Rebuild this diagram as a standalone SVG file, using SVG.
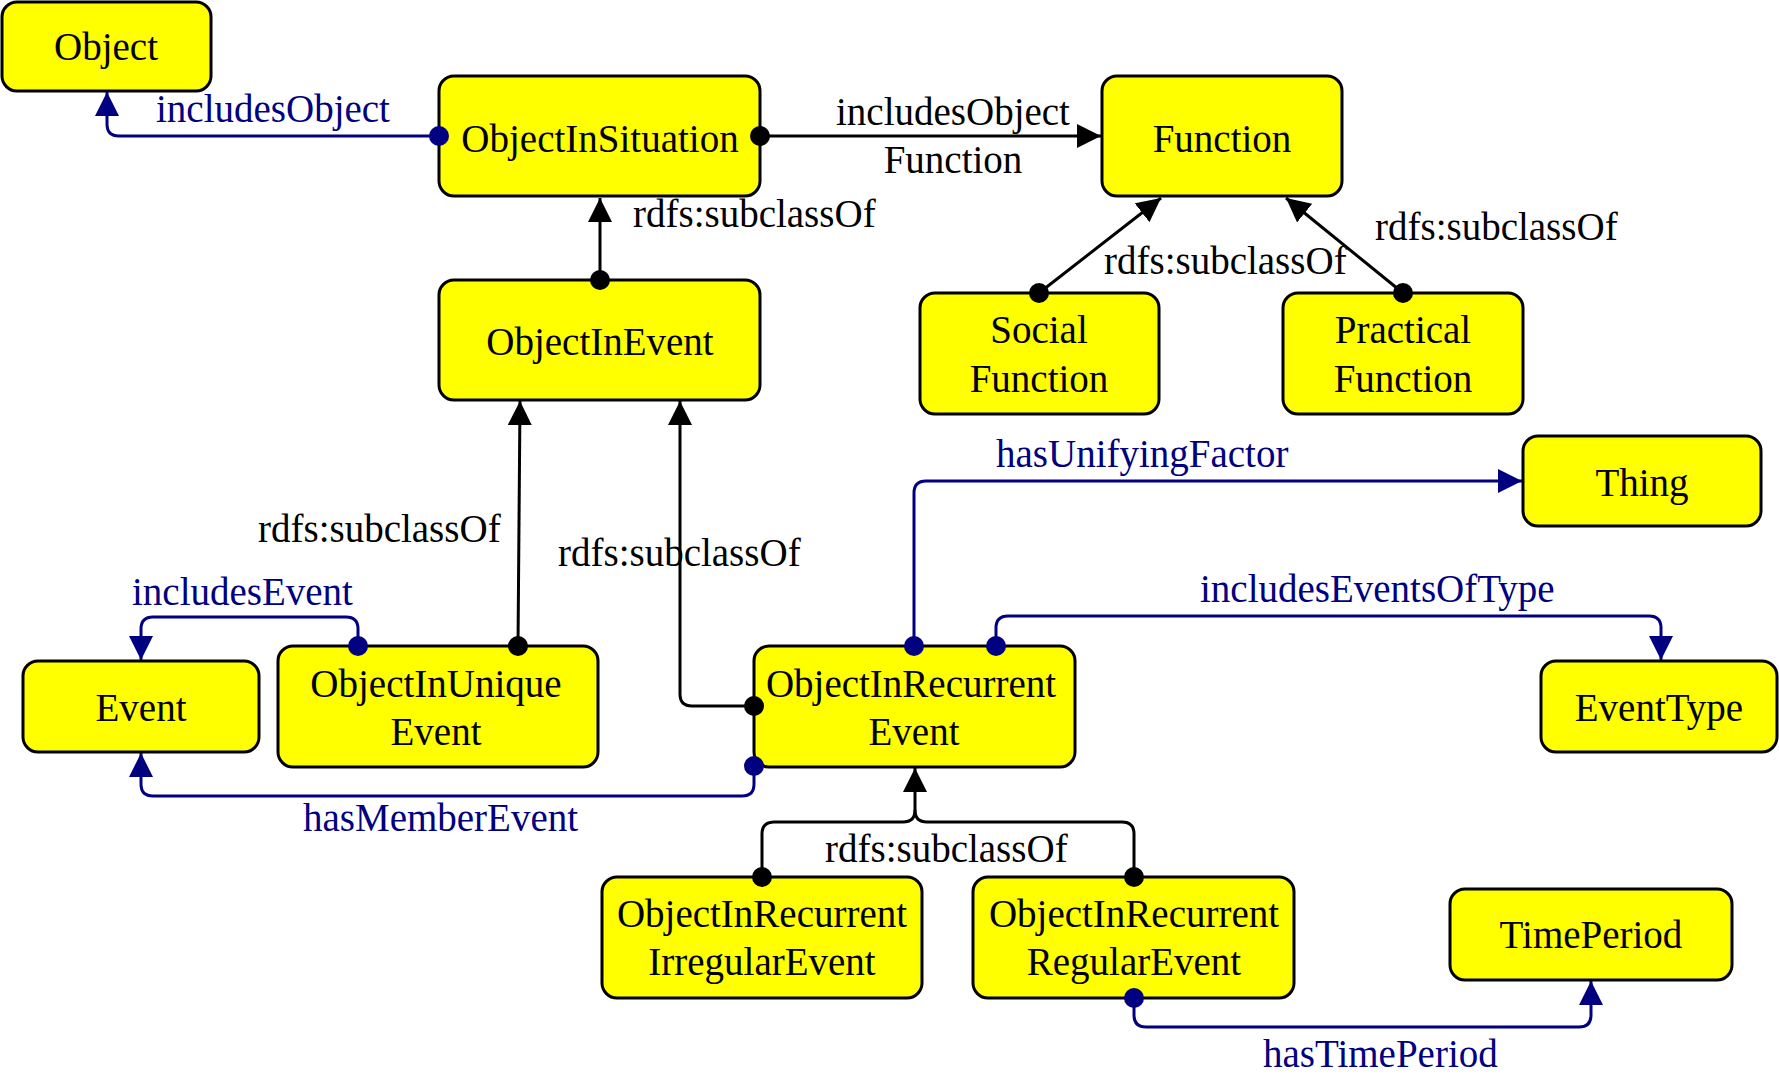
<svg xmlns="http://www.w3.org/2000/svg" width="1779" height="1077" viewBox="0 0 1779 1077">
<style>
.node rect{fill:#ffff00;stroke:#000;stroke-width:3}
text{font-family:"Liberation Serif","Times New Roman",serif;font-size:39px}
.node text{fill:#000;text-anchor:middle}
.e{fill:none;stroke-width:3}
.k{stroke:#000}
.b{stroke:#000080}
.lk{fill:#000}
.lb{fill:#000080}
</style>
<defs>
<marker id="ak" markerUnits="userSpaceOnUse" markerWidth="26" markerHeight="26" refX="24" refY="12" orient="auto"><path d="M0,0 L24,12 L0,24 z" fill="#000"/></marker>
<marker id="ab" markerUnits="userSpaceOnUse" markerWidth="26" markerHeight="26" refX="24" refY="12" orient="auto"><path d="M0,0 L24,12 L0,24 z" fill="#000080"/></marker>
<marker id="dk" markerUnits="userSpaceOnUse" markerWidth="22" markerHeight="22" refX="11" refY="11"><circle cx="11" cy="11" r="10" fill="#000"/></marker>
<marker id="db" markerUnits="userSpaceOnUse" markerWidth="22" markerHeight="22" refX="11" refY="11"><circle cx="11" cy="11" r="10" fill="#000080"/></marker>
</defs>
<rect width="1779" height="1077" fill="#fff"/>
<g id="Object" class="node"><rect x="2" y="2" width="209" height="89" rx="15"/><text x="106" y="60">Object</text></g>
<g id="ObjectInSituation" class="node"><rect x="439" y="76" width="321" height="120" rx="15"/><text x="600" y="152">ObjectInSituation</text></g>
<g id="Function" class="node"><rect x="1102" y="76" width="240" height="120" rx="15"/><text x="1222" y="152">Function</text></g>
<g id="ObjectInEvent" class="node"><rect x="439" y="280" width="321" height="120" rx="15"/><text x="600" y="355">ObjectInEvent</text></g>
<g id="SocialFunction" class="node"><rect x="920" y="293" width="239" height="121" rx="15"/><text x="1039" y="343">Social</text><text x="1039" y="392">Function</text></g>
<g id="PracticalFunction" class="node"><rect x="1283" y="293" width="240" height="121" rx="15"/><text x="1403" y="343">Practical</text><text x="1403" y="392">Function</text></g>
<g id="Thing" class="node"><rect x="1523" y="436" width="238" height="90" rx="15"/><text x="1642" y="496">Thing</text></g>
<g id="Event" class="node"><rect x="23" y="661" width="236" height="91" rx="15"/><text x="141" y="721">Event</text></g>
<g id="ObjectInUniqueEvent" class="node"><rect x="278" y="646" width="320" height="121" rx="15"/><text x="436" y="697">ObjectInUnique</text><text x="436" y="745">Event</text></g>
<g id="ObjectInRecurrentEvent" class="node"><rect x="754" y="646" width="321" height="121" rx="15"/><text x="911" y="697">ObjectInRecurrent</text><text x="914" y="745">Event</text></g>
<g id="EventType" class="node"><rect x="1541" y="661" width="236" height="91" rx="15"/><text x="1659" y="721">EventType</text></g>
<g id="ObjectInRecurrentIrregularEvent" class="node"><rect x="602" y="877" width="320" height="121" rx="15"/><text x="762" y="927">ObjectInRecurrent</text><text x="762" y="975">IrregularEvent</text></g>
<g id="ObjectInRecurrentRegularEvent" class="node"><rect x="973" y="877" width="321" height="121" rx="15"/><text x="1134" y="927">ObjectInRecurrent</text><text x="1134" y="975">RegularEvent</text></g>
<g id="TimePeriod" class="node"><rect x="1450" y="889" width="282" height="91" rx="15"/><text x="1591" y="948">TimePeriod</text></g>
<g id="connectors">
<path class="e b" d="M439,136 L119,136 Q107,136 107,124 L107,92" marker-start="url(#db)" marker-end="url(#ab)"/>
<path class="e k" d="M760,136 L1101,136" marker-start="url(#dk)" marker-end="url(#ak)"/>
<path class="e k" d="M600,280 L600,198" marker-start="url(#dk)" marker-end="url(#ak)"/>
<path class="e k" d="M1039,293 L1161,198" marker-start="url(#dk)" marker-end="url(#ak)"/>
<path class="e k" d="M1403,293 L1286,198" marker-start="url(#dk)" marker-end="url(#ak)"/>
<path class="e k" d="M518,646 L520,401" marker-start="url(#dk)" marker-end="url(#ak)"/>
<path class="e k" d="M754,706 L692,706 Q680,706 680,694 L680,401" marker-start="url(#dk)" marker-end="url(#ak)"/>
<path class="e b" d="M358,646 L358,629 Q358,617 346,617 L153,617 Q141,617 141,629 L141,660" marker-start="url(#db)" marker-end="url(#ab)"/>
<path class="e b" d="M754,766 L754,784 Q754,796 742,796 L153,796 Q141,796 141,784 L141,753" marker-start="url(#db)" marker-end="url(#ab)"/>
<path class="e b" d="M914,646 L914,493 Q914,481 926,481 L1522,481" marker-start="url(#db)" marker-end="url(#ab)"/>
<path class="e b" d="M996,646 L996,628 Q996,616 1008,616 L1649,616 Q1661,616 1661,628 L1661,660" marker-start="url(#db)" marker-end="url(#ab)"/>
<path class="e k" d="M762,877 L762,834 Q762,822 774,822 L903,822 Q915,822 915,810 L915,768" marker-start="url(#dk)" marker-end="url(#ak)"/>
<path class="e k" d="M1134,877 L1134,834 Q1134,822 1122,822 L927,822 Q915,822 915,810" marker-start="url(#dk)"/>
<path class="e b" d="M1134,998 L1134,1015 Q1134,1027 1146,1027 L1579,1027 Q1591,1027 1591,1015 L1591,981" marker-start="url(#db)" marker-end="url(#ab)"/>
<text class="lb" x="156" y="122">includesObject</text>
<text class="lk" x="953" y="125" text-anchor="middle">includesObject</text>
<text class="lk" x="953" y="173" text-anchor="middle">Function</text>
<text class="lk" x="633" y="227">rdfs:subclassOf</text>
<text class="lk" x="1104" y="274">rdfs:subclassOf</text>
<text class="lk" x="1375" y="240">rdfs:subclassOf</text>
<text class="lk" x="258" y="542">rdfs:subclassOf</text>
<text class="lk" x="558" y="566">rdfs:subclassOf</text>
<text class="lb" x="132" y="605">includesEvent</text>
<text class="lb" x="303" y="831">hasMemberEvent</text>
<text class="lb" x="996" y="467">hasUnifyingFactor</text>
<text class="lb" x="1200" y="602">includesEventsOfType</text>
<text class="lk" x="825" y="862">rdfs:subclassOf</text>
<text class="lb" x="1263" y="1067">hasTimePeriod</text>
</g>
</svg>
